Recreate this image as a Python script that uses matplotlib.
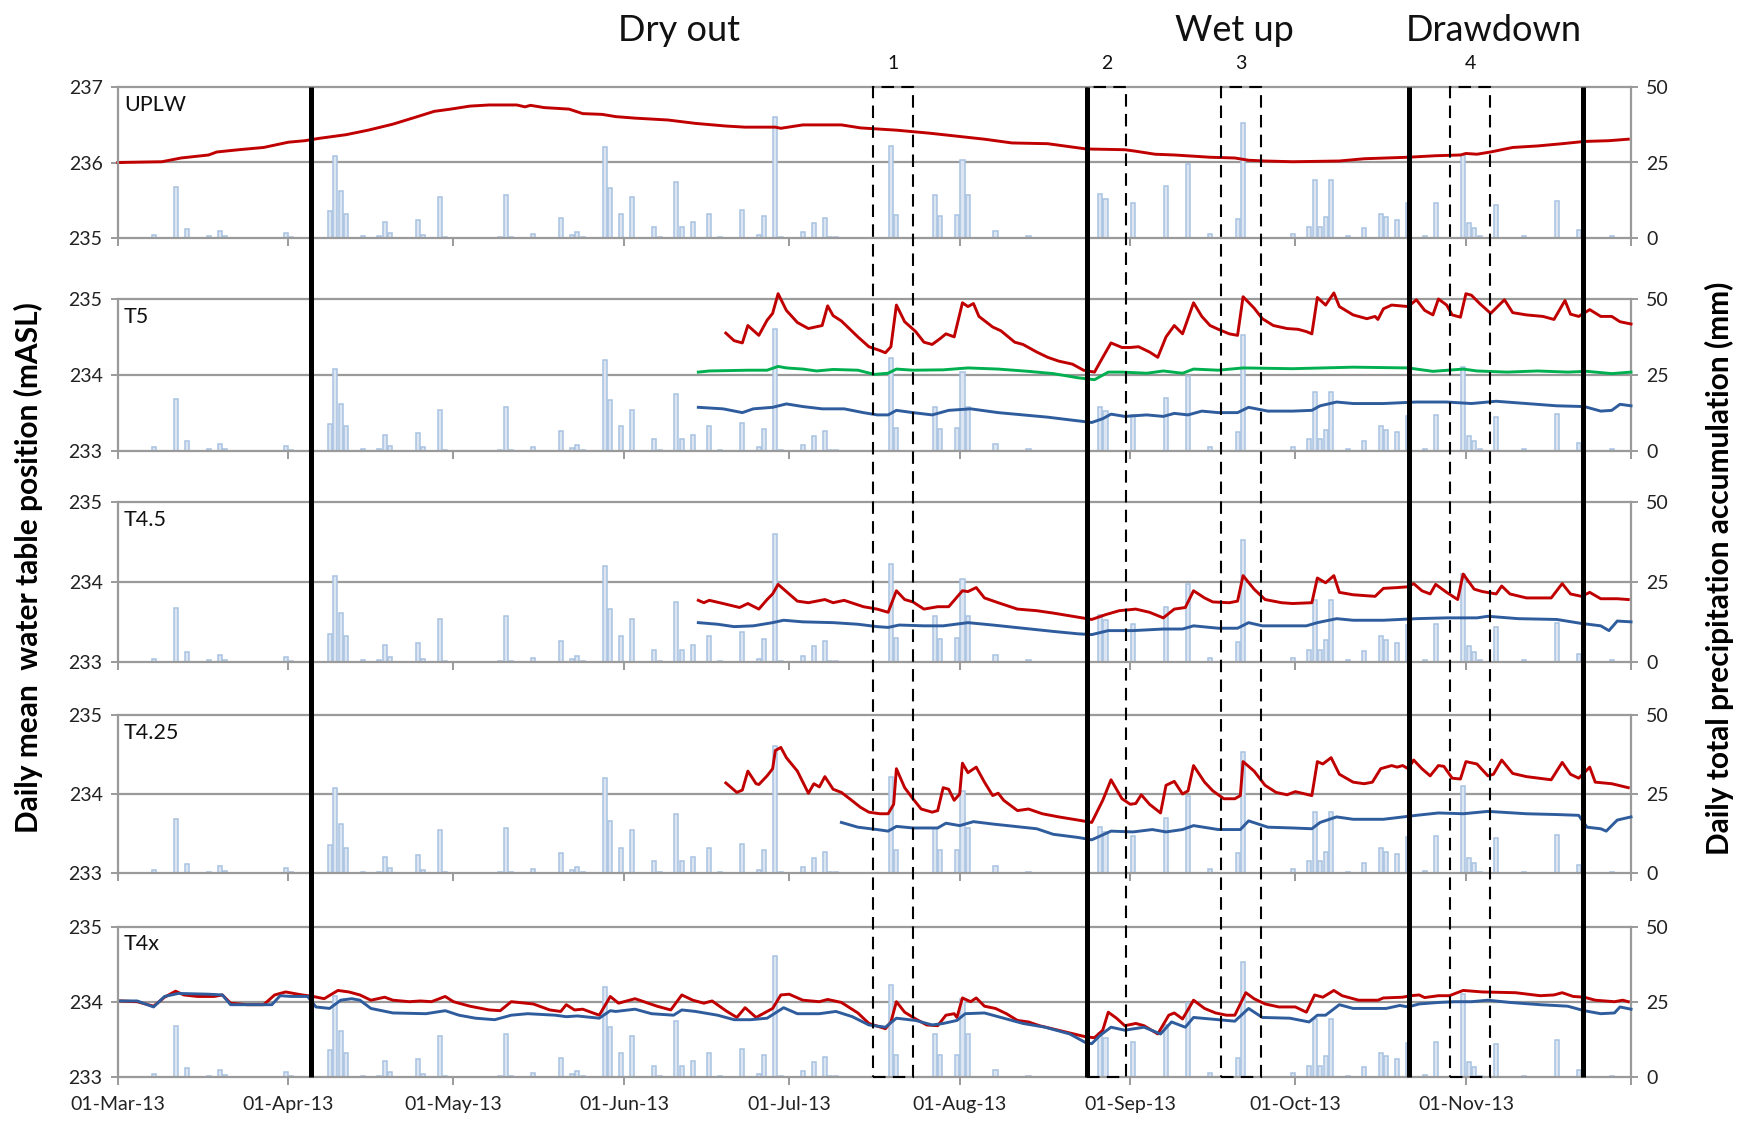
import matplotlib
matplotlib.use('Agg')
import matplotlib.pyplot as plt
import pandas as pd
from matplotlib.patches import Rectangle

plt.rcParams['font.family'] = ['Lato', 'DejaVu Sans']

# ---------------- data ----------------
start = pd.Timestamp('2013-03-01')
month_starts = pd.date_range('2013-03-01', '2013-12-01', freq='MS')
tick_pos = [(d - start).days for d in month_starts]
tick_labels = [d.strftime('%d-%b-%y') for d in month_starts[:-1]] + ['']

# daily precipitation (day offset from 01-Mar-13, mm)
precip_day = [6, 10, 12, 16, 18, 19, 30, 31, 38, 39, 40, 41, 44, 47, 48, 49,
              54, 55, 58, 59, 69, 70, 71, 75, 80, 82, 83, 84, 88, 89, 91, 93,
              97, 98, 101, 102, 104, 107, 109, 113, 116, 117, 119, 120, 124, 126, 128, 129,
              130, 140, 141, 148, 149, 152, 153, 154, 159, 165, 178, 179, 184, 190, 194, 198,
              203, 204, 213, 216, 217, 218, 219, 220, 223, 226, 229, 230, 232, 234, 237, 239,
              244, 245, 246, 247, 250, 255, 261, 265, 271]
precip_mm = [1.0, 17.0, 3.0, 0.4, 2.2, 0.6, 1.5, 0.3, 8.8, 27.0, 15.4, 8.0, 0.4, 0.4, 5.2, 1.5,
             5.8, 1.0, 13.5, 0.3, 0.3, 14.3, 0.3, 1.3, 6.4, 0.8, 1.8, 0.3, 30.0, 16.6, 8.0, 13.5,
             3.7, 0.3, 18.6, 3.7, 5.2, 8.0, 0.3, 9.2, 1.0, 7.2, 40.2, 0.3, 1.8, 4.9, 6.5, 0.3,
             0.3, 30.5, 7.4, 14.2, 7.2, 7.4, 25.8, 14.2, 2.1, 0.4, 14.5, 13.0, 11.7, 17.3, 24.5, 1.3,
             6.2, 38.2, 1.3, 3.7, 19.2, 3.7, 6.8, 19.2, 0.4, 3.3, 8.0, 6.8, 6.0, 11.4, 0.5, 11.7,
             27.5, 4.8, 3.1, 0.4, 11.0, 0.4, 12.1, 2.4, 0.4]

# water table series: (day offset, mASL)
uplw_red = [(0, 236.00), (8, 236.01), (11.5, 236.06), (16.5, 236.10), (18, 236.14), (22, 236.17),
            (26.5, 236.20), (31, 236.27), (34, 236.29), (36.5, 236.32), (41.5, 236.37), (45.5, 236.43),
            (50, 236.51), (54, 236.60), (57.5, 236.68), (60.5, 236.71), (64, 236.75), (67.5, 236.765),
            (72.5, 236.765), (74, 236.74), (75, 236.76), (77.5, 236.73), (82, 236.71), (84.5, 236.65),
            (88, 236.64), (90.5, 236.61), (94, 236.59), (100, 236.565), (105, 236.52), (110.5, 236.485),
            (114, 236.47), (119.5, 236.47), (120.5, 236.455), (124.5, 236.50), (131.5, 236.50),
            (135, 236.46), (141.5, 236.43), (147.5, 236.39), (152.5, 236.35), (157.5, 236.31),
            (162.5, 236.26), (169, 236.25), (174, 236.20), (176, 236.18), (183, 236.17), (185, 236.15),
            (188.5, 236.11), (192, 236.10), (198.5, 236.07), (203, 236.06), (205.5, 236.03),
            (208.5, 236.02), (213.5, 236.01), (222, 236.02), (226.5, 236.05), (234.5, 236.07),
            (239.5, 236.09), (244, 236.10), (245, 236.12), (247, 236.11), (249.5, 236.14),
            (253.5, 236.20), (258, 236.22), (262.5, 236.25), (266.5, 236.28), (271, 236.29), (274.5, 236.31)]

t5_red = [(110.5, 234.55), (112, 234.45), (113.5, 234.42), (114.5, 234.65), (116.5, 234.52), (118, 234.72),
          (119, 234.81), (120, 235.07), (121.5, 234.85), (123.5, 234.69), (125.5, 234.61), (128, 234.65),
          (129, 234.91), (130, 234.78), (131.5, 234.71), (134.5, 234.50), (136.5, 234.37), (138.5, 234.32),
          (139.5, 234.29), (140.5, 234.37), (141.5, 234.92), (143, 234.70), (145, 234.57), (146.5, 234.43),
          (148, 234.40), (149.5, 234.48), (150.5, 234.54), (152, 234.50), (153.5, 234.95), (154.5, 234.90),
          (155.5, 234.94), (156.5, 234.77), (159, 234.63), (160.5, 234.58), (163, 234.43), (164.5, 234.40),
          (167, 234.30), (169, 234.23), (171, 234.18), (173.5, 234.14), (175.5, 234.06), (177.5, 234.035),
          (179, 234.23), (180.5, 234.42), (182.5, 234.36), (184, 234.36), (185.5, 234.37), (187.5, 234.30),
          (189, 234.23), (190.5, 234.50), (192, 234.65), (193.5, 234.54), (195.5, 234.95), (197, 234.77),
          (198.5, 234.65), (200, 234.60), (202, 234.54), (203.5, 234.52), (204.5, 235.03), (206.5, 234.88),
          (208, 234.74), (210, 234.65), (212.5, 234.61), (214.5, 234.60), (216, 234.57), (217, 234.54),
          (218, 235.02), (219.5, 234.92), (221, 235.08), (222, 234.90), (224.5, 234.79), (227, 234.74),
          (228.5, 234.77), (229, 234.73), (230, 234.87), (231.5, 234.92), (234.5, 234.90), (236, 234.99),
          (237.5, 234.85), (239, 234.79), (240, 235.00), (241.5, 234.92), (242.5, 234.79), (244, 234.76),
          (245, 235.07), (246, 235.05), (247.5, 234.94), (249.5, 234.81), (252, 234.99), (253.5, 234.82),
          (256, 234.79), (259, 234.77), (261, 234.73), (263, 234.98), (264, 234.80), (265.5, 234.77),
          (267.5, 234.86), (269.5, 234.77), (271.5, 234.77), (273, 234.70), (275, 234.67)]

t5_green = [(105.5, 234.035), (107.5, 234.05), (114.5, 234.06), (118, 234.06), (120, 234.11), (121.5, 234.09),
            (124.5, 234.075), (127, 234.05), (130, 234.07), (134.5, 234.06), (137.5, 234.005), (140, 234.02),
            (141.5, 234.075), (144.5, 234.06), (150, 234.065), (154.5, 234.09), (160, 234.075),
            (165.5, 234.045), (170, 234.015), (174.5, 233.96), (177.5, 233.935), (180, 234.035),
            (182.5, 234.035), (187, 234.02), (190, 234.05), (193.5, 234.02), (195.5, 234.075),
            (200, 234.06), (204.5, 234.09), (213.5, 234.08), (219, 234.09), (224.5, 234.10),
            (234.5, 234.09), (239, 234.045), (244.5, 234.075), (247, 234.05), (252.5, 234.035),
            (258, 234.05), (263.5, 234.035), (267, 234.045), (271.5, 234.015), (275, 234.035)]

t5_blue = [(105.5, 233.57), (110, 233.55), (113.5, 233.50), (115.5, 233.55), (119, 233.57), (121.5, 233.615),
           (124.5, 233.58), (128, 233.55), (132, 233.55), (135.5, 233.50), (138, 233.47), (140, 233.47),
           (141.5, 233.53), (144.5, 233.50), (148, 233.47), (151, 233.53), (155, 233.55), (160, 233.50),
           (164.5, 233.47), (169, 233.44), (173.5, 233.40), (177, 233.37), (179, 233.42), (180.5, 233.48),
           (183, 233.45), (187, 233.47), (190, 233.45), (192, 233.49), (194.5, 233.47), (197, 233.52),
           (200, 233.50), (203.5, 233.50), (205.5, 233.57), (209, 233.52), (213.5, 233.52), (217, 233.53),
           (218.5, 233.59), (221.5, 233.64), (224.5, 233.62), (230, 233.62), (236, 233.64), (241.5, 233.64),
           (246, 233.62), (250.5, 233.65), (256, 233.62), (261.5, 233.59), (266.5, 233.58), (269.5, 233.52),
           (271.5, 233.53), (273, 233.61), (275, 233.59)]

t45_red = [(105.5, 233.77), (106.5, 233.74), (107.5, 233.77), (110, 233.73), (113, 233.68), (114.5, 233.73),
           (116.5, 233.66), (118, 233.78), (119, 233.85), (120, 233.97), (121, 233.91), (123.5, 233.76),
           (125.5, 233.74), (128.5, 233.78), (130, 233.74), (132, 233.77), (135.5, 233.69), (138, 233.66),
           (140, 233.62), (141.5, 233.89), (143, 233.78), (144.5, 233.75), (146.5, 233.66), (149, 233.69),
           (151, 233.69), (153.5, 233.89), (154.5, 233.88), (156, 233.93), (157.5, 233.80), (160, 233.74),
           (163.5, 233.66), (167, 233.64), (170, 233.61), (173.5, 233.57), (177, 233.53), (179.5, 233.59),
           (182, 233.64), (185, 233.66), (187.5, 233.62), (190, 233.55), (192, 233.66), (194, 233.68),
           (195.5, 233.89), (197.5, 233.80), (199, 233.75), (202, 233.74), (203.5, 233.76), (204.5, 234.08),
           (206.5, 233.91), (208.5, 233.78), (211.5, 233.74), (213.5, 233.73), (217, 233.74), (218, 234.05),
           (219.5, 233.99), (221, 234.08), (222, 233.87), (224.5, 233.84), (228.5, 233.82), (230, 233.92),
           (232.5, 233.93), (234.5, 233.94), (235.5, 233.98), (237, 233.89), (238.5, 233.85), (239.5, 233.97),
           (241.5, 233.87), (243.5, 233.78), (244.5, 234.10), (246.5, 233.91), (248, 233.88), (250.5, 233.85),
           (251.5, 233.95), (253, 233.85), (256, 233.80), (260.5, 233.80), (262.5, 233.98), (264, 233.85),
           (266, 233.82), (267.5, 233.87), (269.5, 233.79), (272.5, 233.79), (274.5, 233.78)]

t45_blue = [(105.5, 233.49), (109, 233.47), (112, 233.44), (115.5, 233.45), (119, 233.49), (121, 233.52),
            (124.5, 233.50), (130, 233.49), (134.5, 233.47), (138, 233.44), (140, 233.43), (142, 233.46),
            (146.5, 233.45), (150, 233.45), (154.5, 233.49), (159, 233.46), (164.5, 233.42), (170, 233.38),
            (174.5, 233.35), (177, 233.34), (180, 233.39), (184.5, 233.39), (190, 233.41), (193.5, 233.41),
            (195.5, 233.45), (200, 233.42), (203.5, 233.42), (205.5, 233.49), (208, 233.45), (216, 233.45),
            (218, 233.49), (221.5, 233.54), (224.5, 233.52), (230, 233.52), (236, 233.54), (241.5, 233.55),
            (247, 233.55), (249, 233.57), (254.5, 233.54), (261.5, 233.53), (266, 233.48), (269.5, 233.45),
            (271, 233.39), (272.5, 233.51), (275, 233.50)]

t425_red = [(110.5, 234.14), (112.5, 234.02), (113.5, 234.05), (114.5, 234.29), (116, 234.13), (116.5, 234.12),
            (118, 234.23), (119, 234.32), (119.5, 234.55), (120.5, 234.59), (121.5, 234.46), (123.5, 234.29),
            (125.5, 234.01), (126.5, 234.13), (127.5, 234.09), (128.5, 234.22), (130, 234.06), (131.5, 234.02),
            (133, 233.94), (135, 233.83), (136.5, 233.77), (138.5, 233.75), (140, 233.75), (141, 233.87),
            (141.5, 234.32), (143, 234.08), (144.5, 233.94), (146, 233.81), (148, 233.77), (149, 233.79),
            (150, 234.08), (151, 234.06), (152, 233.92), (153, 234.00), (153.5, 234.39), (154.5, 234.27),
            (156, 234.34), (157.5, 234.15), (159, 233.98), (160, 234.01), (161, 233.92), (163.5, 233.79),
            (165.5, 233.81), (168, 233.75), (171, 233.71), (174.5, 233.67), (177, 233.64), (179, 233.92),
            (180.5, 234.18), (182.5, 233.94), (184, 233.87), (185, 233.88), (186, 233.99), (187.5, 233.87),
            (189.5, 233.76), (190.5, 234.11), (192, 234.16), (193.5, 234.00), (194.5, 234.04), (195.5, 234.36),
            (197.5, 234.15), (199, 234.04), (201, 233.94), (203, 233.94), (204, 233.98), (204.5, 234.41),
            (206.5, 234.29), (208.5, 234.11), (210.5, 234.02), (212.5, 233.99), (214, 234.03), (217, 233.98),
            (218, 234.41), (219, 234.38), (220.5, 234.46), (222, 234.25), (224.5, 234.15), (226.5, 234.13),
            (228, 234.15), (229.5, 234.32), (231.5, 234.36), (232.5, 234.34), (233.5, 234.36), (234.5, 234.32),
            (235.5, 234.43), (237, 234.32), (238.5, 234.23), (240, 234.36), (241, 234.35), (242.5, 234.20),
            (244, 234.19), (245, 234.41), (247, 234.38), (249, 234.23), (250, 234.25), (251.5, 234.43),
            (253.5, 234.26), (256, 234.22), (260.5, 234.18), (262.5, 234.40), (264, 234.25), (265.5, 234.20),
            (267.5, 234.34), (268.5, 234.15), (271.5, 234.13), (274.5, 234.08)]

t425_blue = [(131.5, 233.64), (134.5, 233.58), (138, 233.55), (140, 233.53), (141.5, 233.59), (144.5, 233.57),
             (147.5, 233.57), (149, 233.57), (150.5, 233.63), (153, 233.60), (155.5, 233.65), (159, 233.62),
             (163, 233.59), (167, 233.56), (170, 233.49), (174.5, 233.45), (177, 233.42), (180.5, 233.53),
             (184.5, 233.52), (188, 233.55), (190.5, 233.52), (193.5, 233.55), (195.5, 233.60), (200, 233.55),
             (204, 233.55), (205.5, 233.66), (209, 233.58), (213.5, 233.57), (217, 233.56), (218.5, 233.64),
             (221.5, 233.71), (224.5, 233.68), (230, 233.68), (236, 233.73), (240, 233.76), (244.5, 233.75),
             (249, 233.78), (256, 233.75), (261.5, 233.74), (265.5, 233.73), (267, 233.58), (269.5, 233.56),
             (270.5, 233.53), (272.5, 233.67), (275, 233.71)]

t4x_red = [(0.5, 234.01), (3.5, 234.00), (6.5, 233.94), (8.5, 234.06), (10.5, 234.14), (12, 234.09),
           (14.5, 234.07), (17.5, 234.07), (19, 234.09), (20.5, 233.98), (23.5, 233.96), (26.5, 233.96),
           (28.5, 234.09), (30.5, 234.13), (32, 234.11), (33.5, 234.09), (35.5, 234.07), (37.5, 234.04),
           (40, 234.15), (42, 234.13), (44, 234.09), (46, 234.02), (48.5, 234.06), (50, 234.02),
           (53, 234.00), (55, 234.01), (57, 234.00), (59.5, 234.07), (61, 234.00), (64, 233.94),
           (67.5, 233.89), (69.5, 233.88), (71.5, 234.00), (75.5, 233.97), (78.5, 233.89), (80.5, 233.87),
           (81.5, 233.96), (83, 233.89), (84.5, 233.90), (87.5, 233.82), (89.5, 234.07), (91, 233.98),
           (94, 234.04), (96, 233.99), (98, 233.94), (100.5, 233.89), (102.5, 234.09), (104.5, 234.02),
           (106.5, 233.98), (108, 234.01), (110.5, 233.88), (112.5, 233.79), (114, 233.92), (116, 233.79),
           (119, 233.91), (120.5, 234.09), (122, 234.10), (124.5, 234.02), (127.5, 234.00), (129, 234.03),
           (131.5, 233.99), (134.5, 233.85), (136.5, 233.71), (139.5, 233.64), (140.5, 233.73), (141.5, 234.00),
           (143, 233.86), (145, 233.77), (147, 233.69), (149, 233.68), (150.5, 233.82), (152, 233.84),
           (152.5, 233.79), (153.5, 234.05), (155, 234.00), (156, 234.05), (157.5, 233.94), (159.5, 233.91),
           (161.5, 233.84), (163.5, 233.75), (165.5, 233.73), (167.5, 233.68), (172, 233.60), (176, 233.53),
           (177.5, 233.52), (179, 233.62), (180, 233.86), (181.5, 233.78), (183, 233.68), (185, 233.71),
           (186.5, 233.68), (189, 233.57), (191, 233.82), (192, 233.85), (193.5, 233.77), (195.5, 234.02),
           (197.5, 233.91), (199.5, 233.85), (201.5, 233.82), (203, 233.82), (205, 234.12), (206.5, 234.04),
           (208.5, 233.97), (211, 233.93), (214, 233.93), (216, 233.86), (217.5, 234.09), (219, 234.06),
           (221, 234.15), (222.5, 234.08), (225.5, 234.02), (229, 234.02), (230, 234.05), (233.5, 234.06),
           (235, 234.08), (236.5, 234.09), (237.5, 234.055), (240, 234.08), (242, 234.08), (244.5, 234.15),
           (248, 234.13), (254, 234.12), (258.5, 234.08), (261, 234.09), (262.5, 234.12), (264.5, 234.07),
           (266.5, 234.06), (268.5, 234.02), (272, 234.00), (273.5, 234.02), (274.5, 234.00)]

t4x_blue = [(0.5, 234.01), (3.5, 234.01), (6.5, 233.93), (8.5, 234.07), (11, 234.11), (16.5, 234.10),
            (19, 234.09), (20.5, 233.96), (24.5, 233.96), (28, 233.96), (29.5, 234.08), (31.5, 234.07),
            (34.5, 234.07), (36, 233.93), (38.5, 233.91), (40.5, 234.02), (42.5, 234.04), (44, 234.02),
            (46, 233.91), (48, 233.88), (50, 233.85), (56, 233.84), (59.5, 233.88), (62, 233.82),
            (65, 233.78), (68.5, 233.76), (71.5, 233.82), (74.5, 233.84), (79.5, 233.82), (81.5, 233.80),
            (83.5, 233.81), (87.5, 233.78), (89.5, 233.88), (90.5, 233.87), (94, 233.90), (97, 233.84),
            (101, 233.82), (102.5, 233.89), (105, 233.87), (109, 233.82), (112, 233.76), (115, 233.76),
            (118, 233.78), (121, 233.92), (123.5, 233.84), (127.5, 233.84), (130.5, 233.87), (133.5, 233.80),
            (136.5, 233.69), (139.5, 233.66), (141.5, 233.78), (145, 233.75), (148, 233.69), (150, 233.71),
            (152.5, 233.75), (154, 233.84), (157.5, 233.85), (160.5, 233.79), (164.5, 233.71), (168.5, 233.66),
            (173, 233.57), (176, 233.45), (177, 233.44), (178.5, 233.55), (180.5, 233.66), (183, 233.62),
            (186.5, 233.66), (189.5, 233.57), (191.5, 233.73), (194, 233.66), (195.5, 233.79), (198.5, 233.77),
            (203, 233.74), (205.5, 233.91), (208, 233.79), (213, 233.78), (216.5, 233.73), (218, 233.82),
            (219.5, 233.82), (222, 233.96), (224.5, 233.91), (230.5, 233.91), (233, 233.95), (234.5, 233.93),
            (236.5, 233.97), (240, 233.99), (243, 234.00), (246, 234.00), (249, 234.02), (253, 233.99),
            (258.5, 233.96), (263.5, 233.94), (266.5, 233.88), (269.5, 233.84), (272, 233.85), (273, 233.93),
            (275, 233.90)]

panel_names = ['UPLW', 'T5', 'T4.5', 'T4.25', 'T4x']
panel_ylims = [(235, 237), (233, 235), (233, 235), (233, 235), (233, 235)]

phase_lines = [35.2, 176.1, 234.7, 266.3]          # thick separators (day offsets)
event_boxes = [(137.2, 144.5), (176.1, 183.3), (200.4, 207.7), (242.1, 249.4)]
event_labels = ['1', '2', '3', '4']
phase_titles = [('Dry out', 102), ('Wet up', 203), ('Drawdown', 250)]

# ---------------- style ----------------
RED = '#C00000'
BLUE = '#2E5C9C'
GREEN = '#00B050'
BAR_FC = '#DCE6F2'
BAR_EC = '#A8C2E2'
GRAY = '#9A9A9A'

panel_series = [
    [(uplw_red, RED)],
    [(t5_red, RED), (t5_green, GREEN), (t5_blue, BLUE)],
    [(t45_red, RED), (t45_blue, BLUE)],
    [(t425_red, RED), (t425_blue, BLUE)],
    [(t4x_red, RED), (t4x_blue, BLUE)],
]

W_PX, H_PX = 1747, 1123
fig = plt.figure(figsize=(W_PX / 100, H_PX / 100), dpi=100)

L = 117.8 / W_PX
R = 1631.0 / W_PX
panel_px = [(87.3, 237.7), (299.0, 450.5), (502.3, 661.7), (715.0, 873.0), (926.7, 1076.7)]

XMAX = tick_pos[-1]
bar_x = [d + 0.5 for d in precip_day]

for i, (name, ylim, series) in enumerate(zip(panel_names, panel_ylims, panel_series)):
    top_px, bot_px = panel_px[i]
    rect = [L, 1 - bot_px / H_PX, R - L, (bot_px - top_px) / H_PX]
    axb = fig.add_axes(rect, zorder=1)
    ax = fig.add_axes(rect, zorder=2, sharex=axb)
    ax.patch.set_visible(False)

    # bars (right axis)
    axb.bar(bar_x, precip_mm, width=0.75, color=BAR_FC, edgecolor=BAR_EC, linewidth=1.1, zorder=2)
    axb.set_ylim(0, 50)
    axb.set_yticks([0, 25, 50])
    axb.yaxis.tick_right()
    axb.yaxis.set_label_position('right')
    axb.set_axisbelow(True)
    axb.axhline(25, color=GRAY, lw=1.6, zorder=1)
    axb.spines['left'].set_visible(False)
    for s in ['right', 'top', 'bottom']:
        axb.spines[s].set_color(GRAY)
        axb.spines[s].set_linewidth(1.6)
    axb.tick_params(axis='y', direction='inout', length=10, width=1.4, color=GRAY,
                    labelsize=14, pad=6, labelcolor='#222222')
    axb.set_xlim(0, XMAX)
    axb.set_xticks(tick_pos)
    axb.tick_params(axis='x', direction='out', length=6, width=1.4, color=GRAY,
                    labelsize=14, pad=8, labelcolor='#222222')
    if i == len(panel_names) - 1:
        axb.set_xticklabels(tick_labels)
    else:
        axb.set_xticklabels([''] * len(tick_pos))

    # water table lines (left axis)
    for data, col in series:
        xs = [p[0] for p in data]
        ys = [p[1] for p in data]
        ax.plot(xs, ys, color=col, lw=2.1, clip_on=False, solid_joinstyle='round')
    ax.set_ylim(*ylim)
    ax.set_yticks([ylim[0], ylim[0] + 1, ylim[1]])
    ax.yaxis.tick_left()
    for s in ['right', 'top', 'bottom']:
        ax.spines[s].set_visible(False)
    ax.spines['left'].set_color(GRAY)
    ax.spines['left'].set_linewidth(1.6)
    ax.tick_params(axis='y', direction='inout', length=10, width=1.4, color=GRAY,
                   labelsize=14, pad=6, labelcolor='#222222')
    ax.tick_params(axis='x', bottom=False, labelbottom=False)
    ax.text(0.004, 0.95, name, transform=ax.transAxes, ha='left', va='top', fontsize=15.5, color='#111111')

# overlay for phase separators and event boxes
top_px, bot_px = panel_px[0][0], panel_px[-1][1]
ov = fig.add_axes([L, 1 - bot_px / H_PX, R - L, (bot_px - top_px) / H_PX], zorder=5)
ov.set_xlim(0, XMAX)
ov.set_ylim(0, 1)
ov.axis('off')
ov.patch.set_visible(False)
for x in phase_lines:
    ov.plot([x, x], [0, 1], color='black', lw=3.6, solid_capstyle='butt', clip_on=False)
for (x0, x1), lab in zip(event_boxes, event_labels):
    ov.add_patch(Rectangle((x0, 0), x1 - x0, 1, fill=False, edgecolor='black', lw=1.5,
                           linestyle=(0, (6, 3.5)), clip_on=False))
    ov.text((x0 + x1) / 2, 1.024, lab, ha='center', va='center', fontsize=14, color='#111111')
for t, x in phase_titles:
    ov.text(x, 1.057, t, ha='center', va='center', fontsize=26, color='#111111')

fig.text(28 / W_PX, 1 - 568 / H_PX, 'Daily mean  water table position (mASL)', rotation=90,
         ha='center', va='center', fontsize=21.5, fontweight='bold')
fig.text(1719 / W_PX, 1 - 568 / H_PX, 'Daily total precipitation accumulation (mm)', rotation=90,
         ha='center', va='center', fontsize=21.5, fontweight='bold')

fig.savefig('out.png', dpi=100)
